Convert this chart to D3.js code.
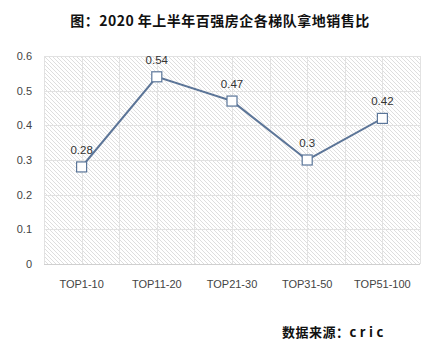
<!DOCTYPE html>
<html>
<head>
<meta charset="utf-8">
<script src="https://cdn.jsdelivr.net/npm/d3@7"></script>
<style>
  body { margin: 0; background: #fff; }
  svg { display: block; }
</style>
</head>
<body>
<svg id="chart"></svg>
<script>
var categories = ["TOP1-10", "TOP11-20", "TOP21-30", "TOP31-50", "TOP51-100"]
var values = [0.28, 0.54, 0.47, 0.3, 0.42]
var yTicks = [0, 0.1, 0.2, 0.3, 0.4, 0.5, 0.6]
var title = "图：2020 年上半年百强房企各梯队拿地销售比"
var sourceLabel = "数据来源："
var sourceName = "cric"

var width = 441
var height = 358
var margin = { top: 56, right: 21, bottom: 94, left: 44 }
var innerW = width - margin.left - margin.right
var innerH = height - margin.top - margin.bottom

var svg = d3.select("#chart")
  .attr("width", width)
  .attr("height", height)

var defs = svg.append("defs")
var hatch = defs.append("pattern")
  .attr("id", "hatch")
  .attr("patternUnits", "userSpaceOnUse")
  .attr("width", 4)
  .attr("height", 4)
hatch.append("path")
  .attr("d", "M-1,-1 L5,5 M-1,3 L1,5 M3,-1 L5,1")
  .attr("stroke", "#d6d6d6")
  .attr("stroke-width", 0.8)

var glow = defs.append("filter").attr("id", "glow")
  .attr("x", "-10%").attr("y", "-10%").attr("width", "120%").attr("height", "120%")
glow.append("feGaussianBlur").attr("in", "SourceAlpha").attr("stdDeviation", 1.2).attr("result", "b")
glow.append("feFlood").attr("flood-color", "#ffffff")
glow.append("feComposite").attr("in2", "b").attr("operator", "in").attr("result", "w")
var mg = glow.append("feMerge")
mg.append("feMergeNode").attr("in", "w")
mg.append("feMergeNode").attr("in", "SourceGraphic")

var g = svg.append("g")
  .attr("transform", "translate(" + margin.left + "," + margin.top + ")")

var x = d3.scaleBand()
  .domain(categories)
  .range([0, innerW])

var y = d3.scaleLinear()
  .domain([0, 0.6])
  .range([innerH, 0])

// plot background
g.append("rect")
  .attr("width", innerW)
  .attr("height", innerH)
  .attr("fill", "url(#hatch)")

// horizontal grid
g.append("g")
  .selectAll("line")
  .data(yTicks)
  .enter()
  .append("line")
  .attr("x1", 0)
  .attr("x2", innerW)
  .attr("y1", function(d) { return Math.round(y(d)) + 0.5 })
  .attr("y2", function(d) { return Math.round(y(d)) + 0.5 })
  .attr("stroke", function(d) { return d === 0 ? "#d0d0d0" : "#e2e2e2" })
  .attr("stroke-width", 1)

// vertical grid at band edges and centers
var vLines = []
categories.forEach(function(c) {
  vLines.push(x(c))
  vLines.push(x(c) + x.bandwidth() / 2)
})
vLines.push(innerW)
g.append("g")
  .selectAll("line")
  .data(vLines)
  .enter()
  .append("line")
  .attr("x1", function(d) { return Math.round(d) + 0.5 })
  .attr("x2", function(d) { return Math.round(d) + 0.5 })
  .attr("y1", 0)
  .attr("y2", innerH)
  .attr("stroke", "#e2e2e2")

// y axis labels
g.append("g")
  .selectAll("text")
  .data(yTicks)
  .enter()
  .append("text")
  .attr("x", -12)
  .attr("y", function(d) { return y(d) + 4 })
  .attr("text-anchor", "end")
  .attr("font-family", "Liberation Sans, Arial, sans-serif")
  .attr("font-size", 11)
  .attr("fill", "#444")
  .text(function(d) { return d === 0 ? "0" : d3.format(".1f")(d) })

// x axis labels
g.append("g")
  .selectAll("text")
  .data(categories)
  .enter()
  .append("text")
  .attr("x", function(d) { return x(d) + x.bandwidth() / 2 })
  .attr("y", innerH + 24)
  .attr("text-anchor", "middle")
  .attr("font-family", "Liberation Sans, Arial, sans-serif")
  .attr("font-size", 11)
  .attr("fill", "#444")
  .text(function(d) { return d })

var pts = categories.map(function(c, i) { return [c, values[i]] })

var line = d3.line()
  .x(function(d) { return x(d[0]) + x.bandwidth() / 2 })
  .y(function(d) { return y(d[1]) })

g.append("path")
  .datum(pts)
  .attr("d", line)
  .attr("fill", "none")
  .attr("stroke", "#5b7699")
  .attr("stroke-width", 2.2)
  .attr("filter", "url(#glow)")

g.append("g")
  .selectAll("rect")
  .data(pts)
  .enter()
  .append("rect")
  .attr("x", function(d) { return x(d[0]) + x.bandwidth() / 2 - 5 })
  .attr("y", function(d) { return y(d[1]) - 5 })
  .attr("width", 10)
  .attr("height", 10)
  .attr("fill", "#fff")
  .attr("stroke", "#5b7699")
  .attr("stroke-width", 1.2)

g.append("g")
  .selectAll("text")
  .data(pts)
  .enter()
  .append("text")
  .attr("x", function(d) { return x(d[0]) + x.bandwidth() / 2 })
  .attr("y", function(d) { return y(d[1]) - 13 })
  .attr("text-anchor", "middle")
  .attr("font-family", "Liberation Sans, Arial, sans-serif")
  .attr("font-size", 11.5)
  .attr("fill", "#333")
  .text(function(d) { return d[1] })

// title
svg.append("text")
  .attr("x", 220)
  .attr("y", 26)
  .attr("text-anchor", "middle")
  .attr("font-family", "Noto Sans CJK SC, sans-serif")
  .attr("font-weight", "bold")
  .attr("font-size", 14)
  .attr("letter-spacing", 0.5)
  .attr("fill", "#111")
  .text(title)

// source
var src = svg.append("text")
  .attr("x", 282)
  .attr("y", 337)
  .attr("font-family", "Noto Sans CJK SC, sans-serif")
  .attr("font-weight", "bold")
  .attr("font-size", 13)
  .attr("fill", "#111")
src.append("tspan")
  .attr("letter-spacing", 0.5)
  .text(sourceLabel)
src.append("tspan")
  .attr("letter-spacing", 3.5)
  .text(sourceName)
</script>
</body>
</html>
